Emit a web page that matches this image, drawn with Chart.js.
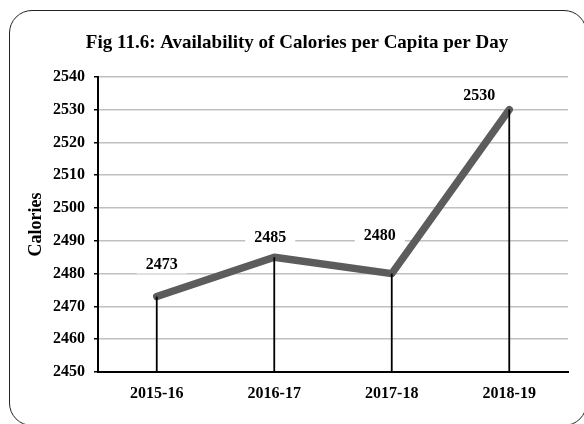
<!DOCTYPE html>
<html>
<head>
<meta charset="utf-8">
<script src="https://cdn.jsdelivr.net/npm/chart.js@4/dist/chart.umd.min.js"></script>
<style>
  html, body { margin: 0; padding: 0; background: #fff; overflow: hidden; }
  #wrap { position: relative; width: 584px; height: 424px; overflow: hidden; }
  #frame { position: absolute; left: 9px; top: 10px; width: 578px; height: 416px;
           border: 1.3px solid #222; border-radius: 23px; box-sizing: border-box; pointer-events: none; }
  canvas { position: absolute; left: 0; top: 0; }
</style>
</head>
<body>
<div id="wrap">
  <canvas id="c" width="584" height="424"></canvas>
  <div id="frame"></div>
</div>
<script>
const categories = ['2015-16', '2016-17', '2017-18', '2018-19'];
const calories = [2473, 2485, 2480, 2530];
const yTicks = [2450, 2460, 2470, 2480, 2490, 2500, 2510, 2520, 2530, 2540];
const chartTitle = 'Fig 11.6: Availability of Calories per Capita per Day';
const yAxisTitle = 'Calories';

const FONT = "'Liberation Serif', 'Times New Roman', serif";
// manual label placement (px offsets from each point), as in the original
const labelOffsets = [[5, -33], [-4, -20], [-12, -39], [-30, -15]];

const overlay = {
  id: 'overlay',
  afterDatasetsDraw(chart) {
    const ctx = chart.ctx;
    const meta = chart.getDatasetMeta(0);
    const bottom = chart.chartArea.bottom;
    ctx.save();
    // drop lines
    ctx.strokeStyle = '#000';
    ctx.lineWidth = 1.8;
    meta.data.forEach(pt => {
      ctx.beginPath();
      ctx.moveTo(pt.x, pt.y);
      ctx.lineTo(pt.x, bottom);
      ctx.stroke();
    });
    // data labels with white background
    ctx.font = 'bold 16px ' + FONT;
    ctx.textAlign = 'center';
    ctx.textBaseline = 'middle';
    meta.data.forEach((pt, i) => {
      const [dx, dy] = labelOffsets[i];
      const x = pt.x + dx, y = pt.y + dy;
      ctx.fillStyle = '#fff';
      ctx.fillRect(x - 25, y - 10, 50, 20);
      ctx.fillStyle = '#000';
      ctx.fillText(String(calories[i]), x, y + 1);
    });
    ctx.restore();
  }
};

new Chart(document.getElementById('c'), {
  type: 'line',
  data: {
    labels: categories,
    datasets: [{
      data: calories,
      borderColor: '#5c5c5c',
      borderWidth: 7.5,
      borderCapStyle: 'round',
      borderJoinStyle: 'round',
      pointRadius: 0,
      tension: 0,
      fill: false
    }]
  },
  options: {
    responsive: false,
    animation: false,
    devicePixelRatio: 1,
    layout: { padding: { left: 26, right: 16, top: 0, bottom: 0 } },
    plugins: {
      legend: { display: false },
      tooltip: { enabled: false },
      title: {
        display: true,
        text: chartTitle,
        color: '#000',
        font: { family: FONT, size: 19, weight: 'bold', lineHeight: 1.2 },
        padding: { top: 32, bottom: 22 }
      }
    },
    scales: {
      x: {
        offset: true,
        grid: { display: false, drawTicks: false },
        border: { display: true, color: '#000', width: 2 },
        ticks: { color: '#000', padding: 12, font: { family: FONT, size: 16, weight: 'bold' }, maxRotation: 0 },
        afterFit(s) { s.height = 52; }
      },
      y: {
        min: 2450,
        max: 2540,
        afterBuildTicks(s) { s.ticks = yTicks.map(v => ({ value: v })); },
        grid: { color: '#c0c0c0', lineWidth: 1.5, tickColor: '#000', tickLength: 4, tickWidth: 1.5 },
        border: { display: true, color: '#000', width: 2 },
        ticks: {
          color: '#000', padding: 9,
          font: { family: FONT, size: 16, weight: 'bold' },
          callback: v => String(v)
        },
        title: {
          display: true,
          text: yAxisTitle,
          color: '#000',
          font: { family: FONT, size: 18, weight: 'bold', lineHeight: 1.2 },
          padding: { top: 0, bottom: 0 }
        },
        afterFit(s) { s.width = 72; }
      }
    }
  },
  plugins: [overlay]
});
</script>
</body>
</html>
